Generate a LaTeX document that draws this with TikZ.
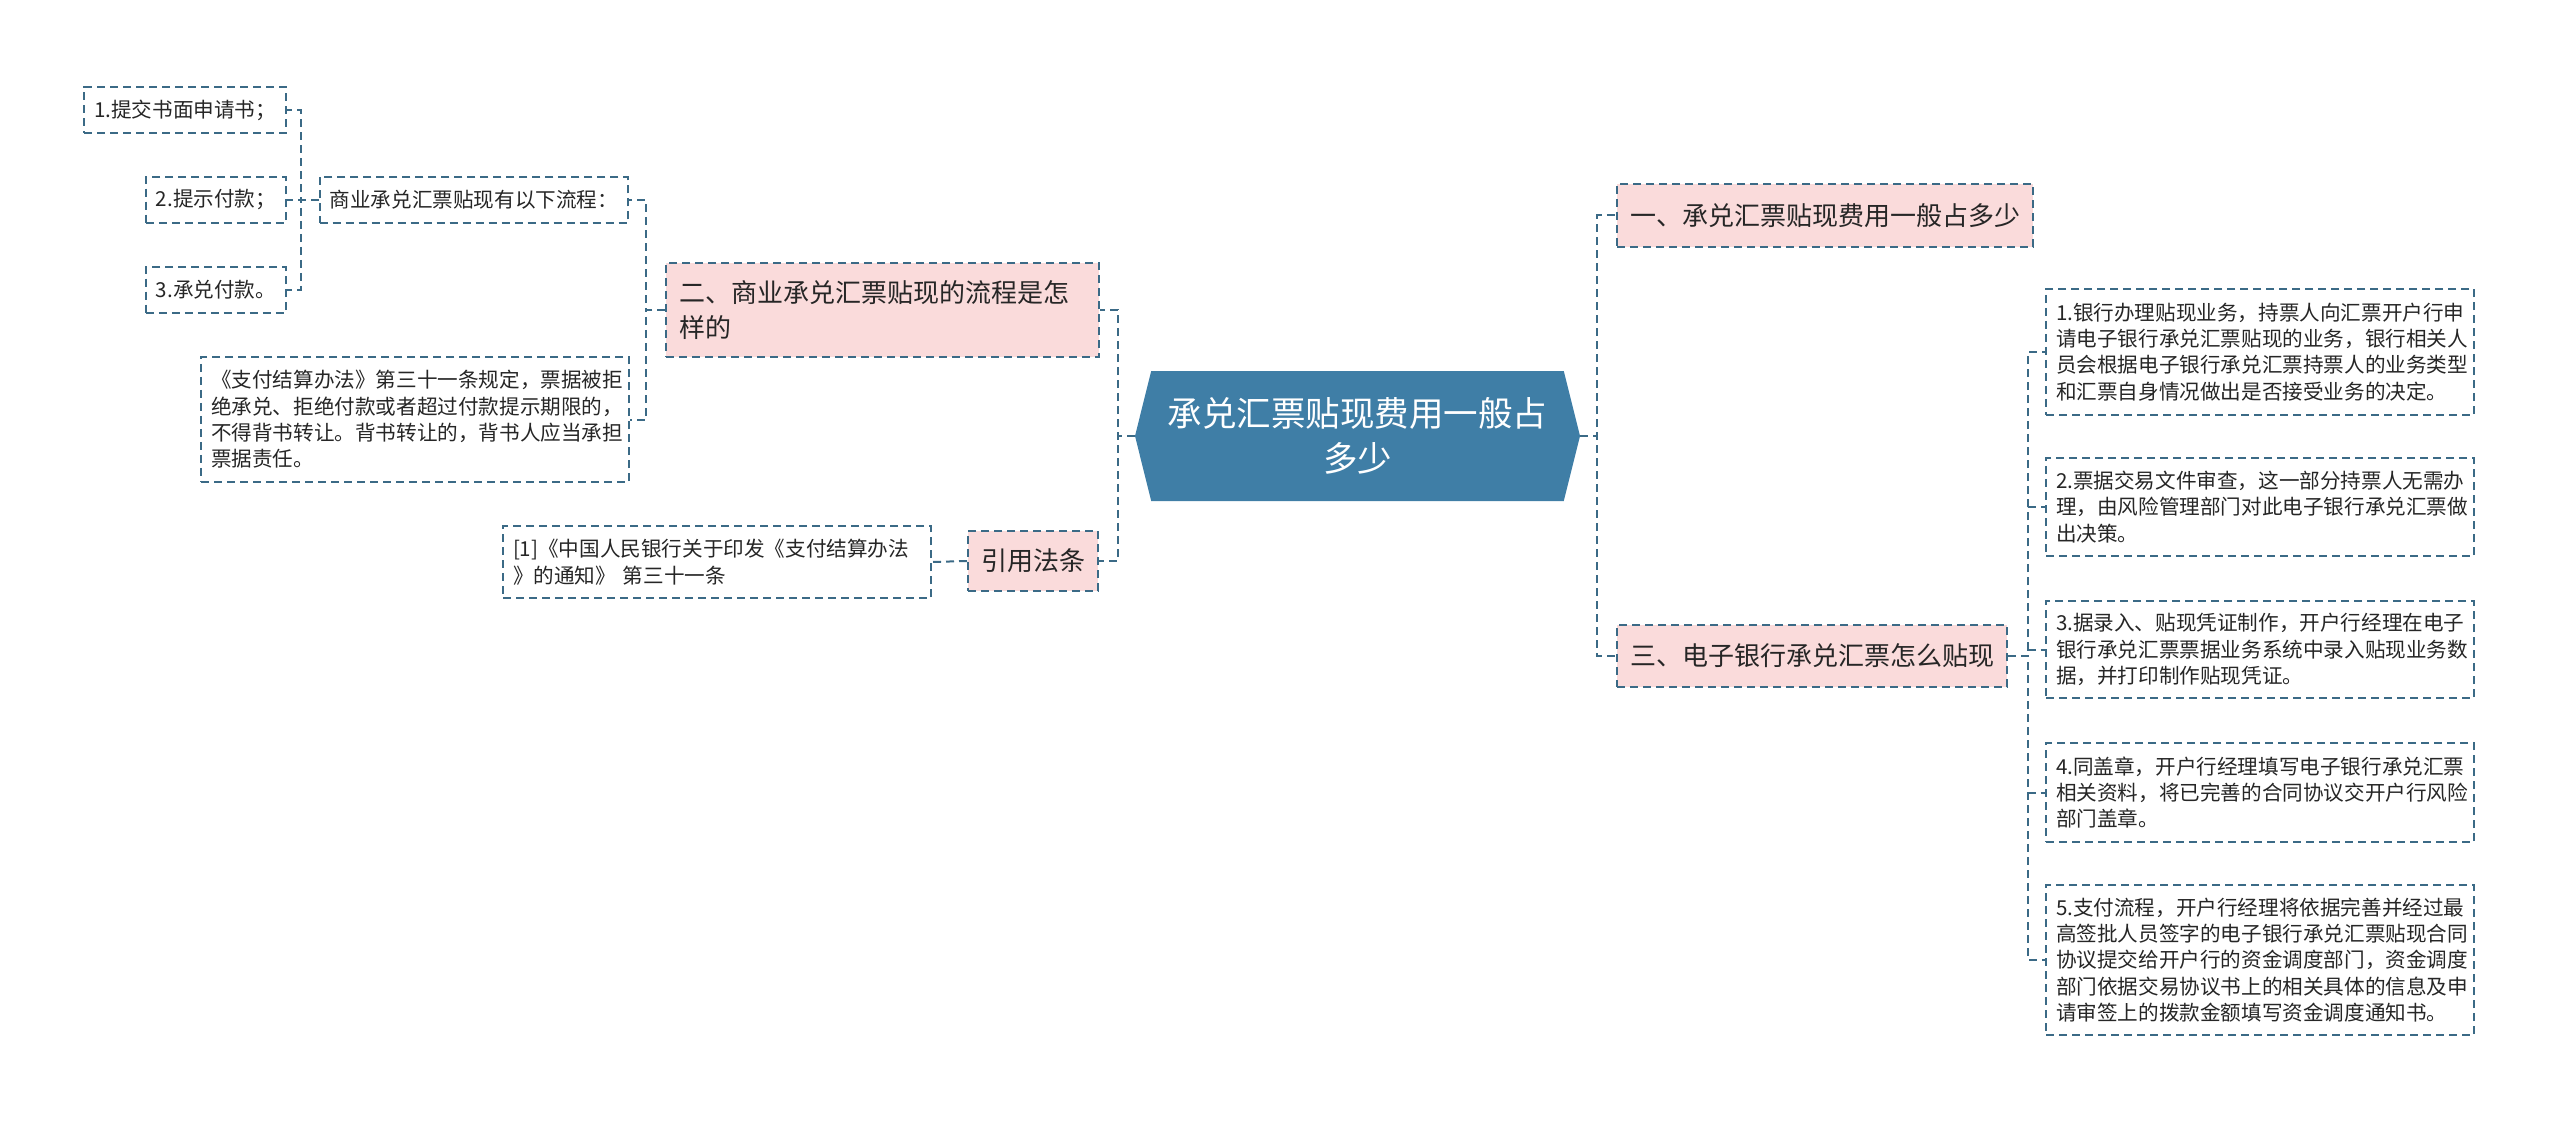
\documentclass[tikz,border=0pt]{standalone}
\usepackage{fontspec}
\setmainfont{Noto Sans CJK SC}
\usetikzlibrary{shapes.symbols}
\definecolor{linec}{HTML}{3B6A86}
\definecolor{rootc}{HTML}{3F7EA6}
\definecolor{pinkc}{HTML}{FADBDB}
\definecolor{textc}{HTML}{262626}
\begin{document}
\begin{tikzpicture}[x=0.5pt,y=-0.5pt,
          link/.style={draw=linec,line width=1pt,dash pattern=on 4pt off 2.5pt},
          topic/.style={link,fill=pinkc,text=textc,font=\fontsize{13pt}{17.5pt}\selectfont,inner xsep=6.5pt,inner ysep=0pt,align=left},
          leaf/.style={link,fill=white,text=textc,font=\fontsize{10.3pt}{13.2pt}\selectfont,inner xsep=5pt,inner ysep=0pt,align=left}]
          \useasboundingbox (0,0) rectangle (2560,1123);

          \node (root) [shape=signal,signal to=west and east,signal pointer angle=152,fill=rootc,text=white,
            font=\fontsize{17.25pt}{22.5pt}\selectfont,align=center,inner sep=0pt,
            minimum width=222.5pt,minimum height=65pt] at (1357.5,436) {承兑汇票贴现费用一般占\\多少};

          \node (n1) [topic,anchor=west,minimum height=31.5pt] at (1616,215.5) {一、承兑汇票贴现费用一般占多少};
          \node (n3) [topic,anchor=west,minimum height=31pt] at (1616,656) {三、电子银行承兑汇票怎么贴现};
          \node (n2) [topic,anchor=east,text width=203.5pt,minimum height=47pt] at (1100,310) {二、商业承兑汇票贴现的流程是怎\\样的};
          \node (law) [topic,anchor=east,minimum height=30pt] at (1099,561) {引用法条};

          \node (r1) [leaf,anchor=west,text width=204pt,minimum height=63pt] at (2045,352) {1.银行办理贴现业务，持票人向汇票开户行申\\请电子银行承兑汇票贴现的业务，银行相关人\\员会根据电子银行承兑汇票持票人的业务类型\\和汇票自身情况做出是否接受业务的决定。};
          \node (r2) [leaf,anchor=west,text width=204pt,minimum height=49pt] at (2045,507) {2.票据交易文件审查，这一部分持票人无需办\\理，由风险管理部门对此电子银行承兑汇票做\\出决策。};
          \node (r3) [leaf,anchor=west,text width=204pt,minimum height=48.5pt] at (2045,649.5) {3.据录入、贴现凭证制作，开户行经理在电子\\银行承兑汇票票据业务系统中录入贴现业务数\\据，并打印制作贴现凭证。};
          \node (r4) [leaf,anchor=west,text width=204pt,minimum height=49.5pt] at (2045,792.5) {4.同盖章，开户行经理填写电子银行承兑汇票\\相关资料，将已完善的合同协议交开户行风险\\部门盖章。};
          \node (r5) [leaf,anchor=west,text width=204pt,minimum height=75pt] at (2045,960) {5.支付流程，开户行经理将依据完善并经过最\\高签批人员签字的电子银行承兑汇票贴现合同\\协议提交给开户行的资金调度部门，资金调度\\部门依据交易协议书上的相关具体的信息及申\\请审签上的拨款金额填写资金调度通知书。};

          \node (flow) [leaf,anchor=east,minimum height=23pt] at (629,200) {商业承兑汇票贴现有以下流程：};
          \node (s1) [leaf,anchor=east,minimum height=23pt] at (287,110) {1.提交书面申请书；};
          \node (s2) [leaf,anchor=east,minimum height=23pt] at (287,200) {2.提示付款；};
          \node (s3) [leaf,anchor=east,minimum height=23pt] at (287,290) {3.承兑付款。};
          \node (rule) [leaf,anchor=east,text width=204pt,minimum height=62.5pt] at (630,419.5) {《支付结算办法》第三十一条规定，票据被拒\\绝承兑、拒绝付款或者超过付款提示期限的，\\不得背书转让。背书转让的，背书人应当承担\\票据责任。};
          \node (ref) [leaf,anchor=east,text width=204pt,minimum height=36pt] at (932,562) {[1]《中国人民银行关于印发《支付结算办法\\》的通知》 第三十一条};

          \draw[link] (root.east) -- ++(17,0) |- (n1.west);
          \draw[link] (root.east) -- ++(17,0) |- (n3.west);
          \draw[link] (root.west) -- ++(-17,0) |- (n2.east);
          \draw[link] (root.west) -- ++(-17,0) |- (law.east);
          \draw[link] (n2.west) -- ++(-19,0) |- (flow.east);
          \draw[link] (n2.west) -- ++(-19,0) |- (rule.east);
          \foreach \s in {s1,s2,s3}
            \draw[link] (flow.west) -- ++(-18,0) |- (\s.east);
          \draw[link] (law.west) -- (ref.east);
          \foreach \r in {r1,r2,r3,r4,r5}
            \draw[link] (n3.east) -- ++(20,0) |- (\r.west);
        \end{tikzpicture}
\end{document}
